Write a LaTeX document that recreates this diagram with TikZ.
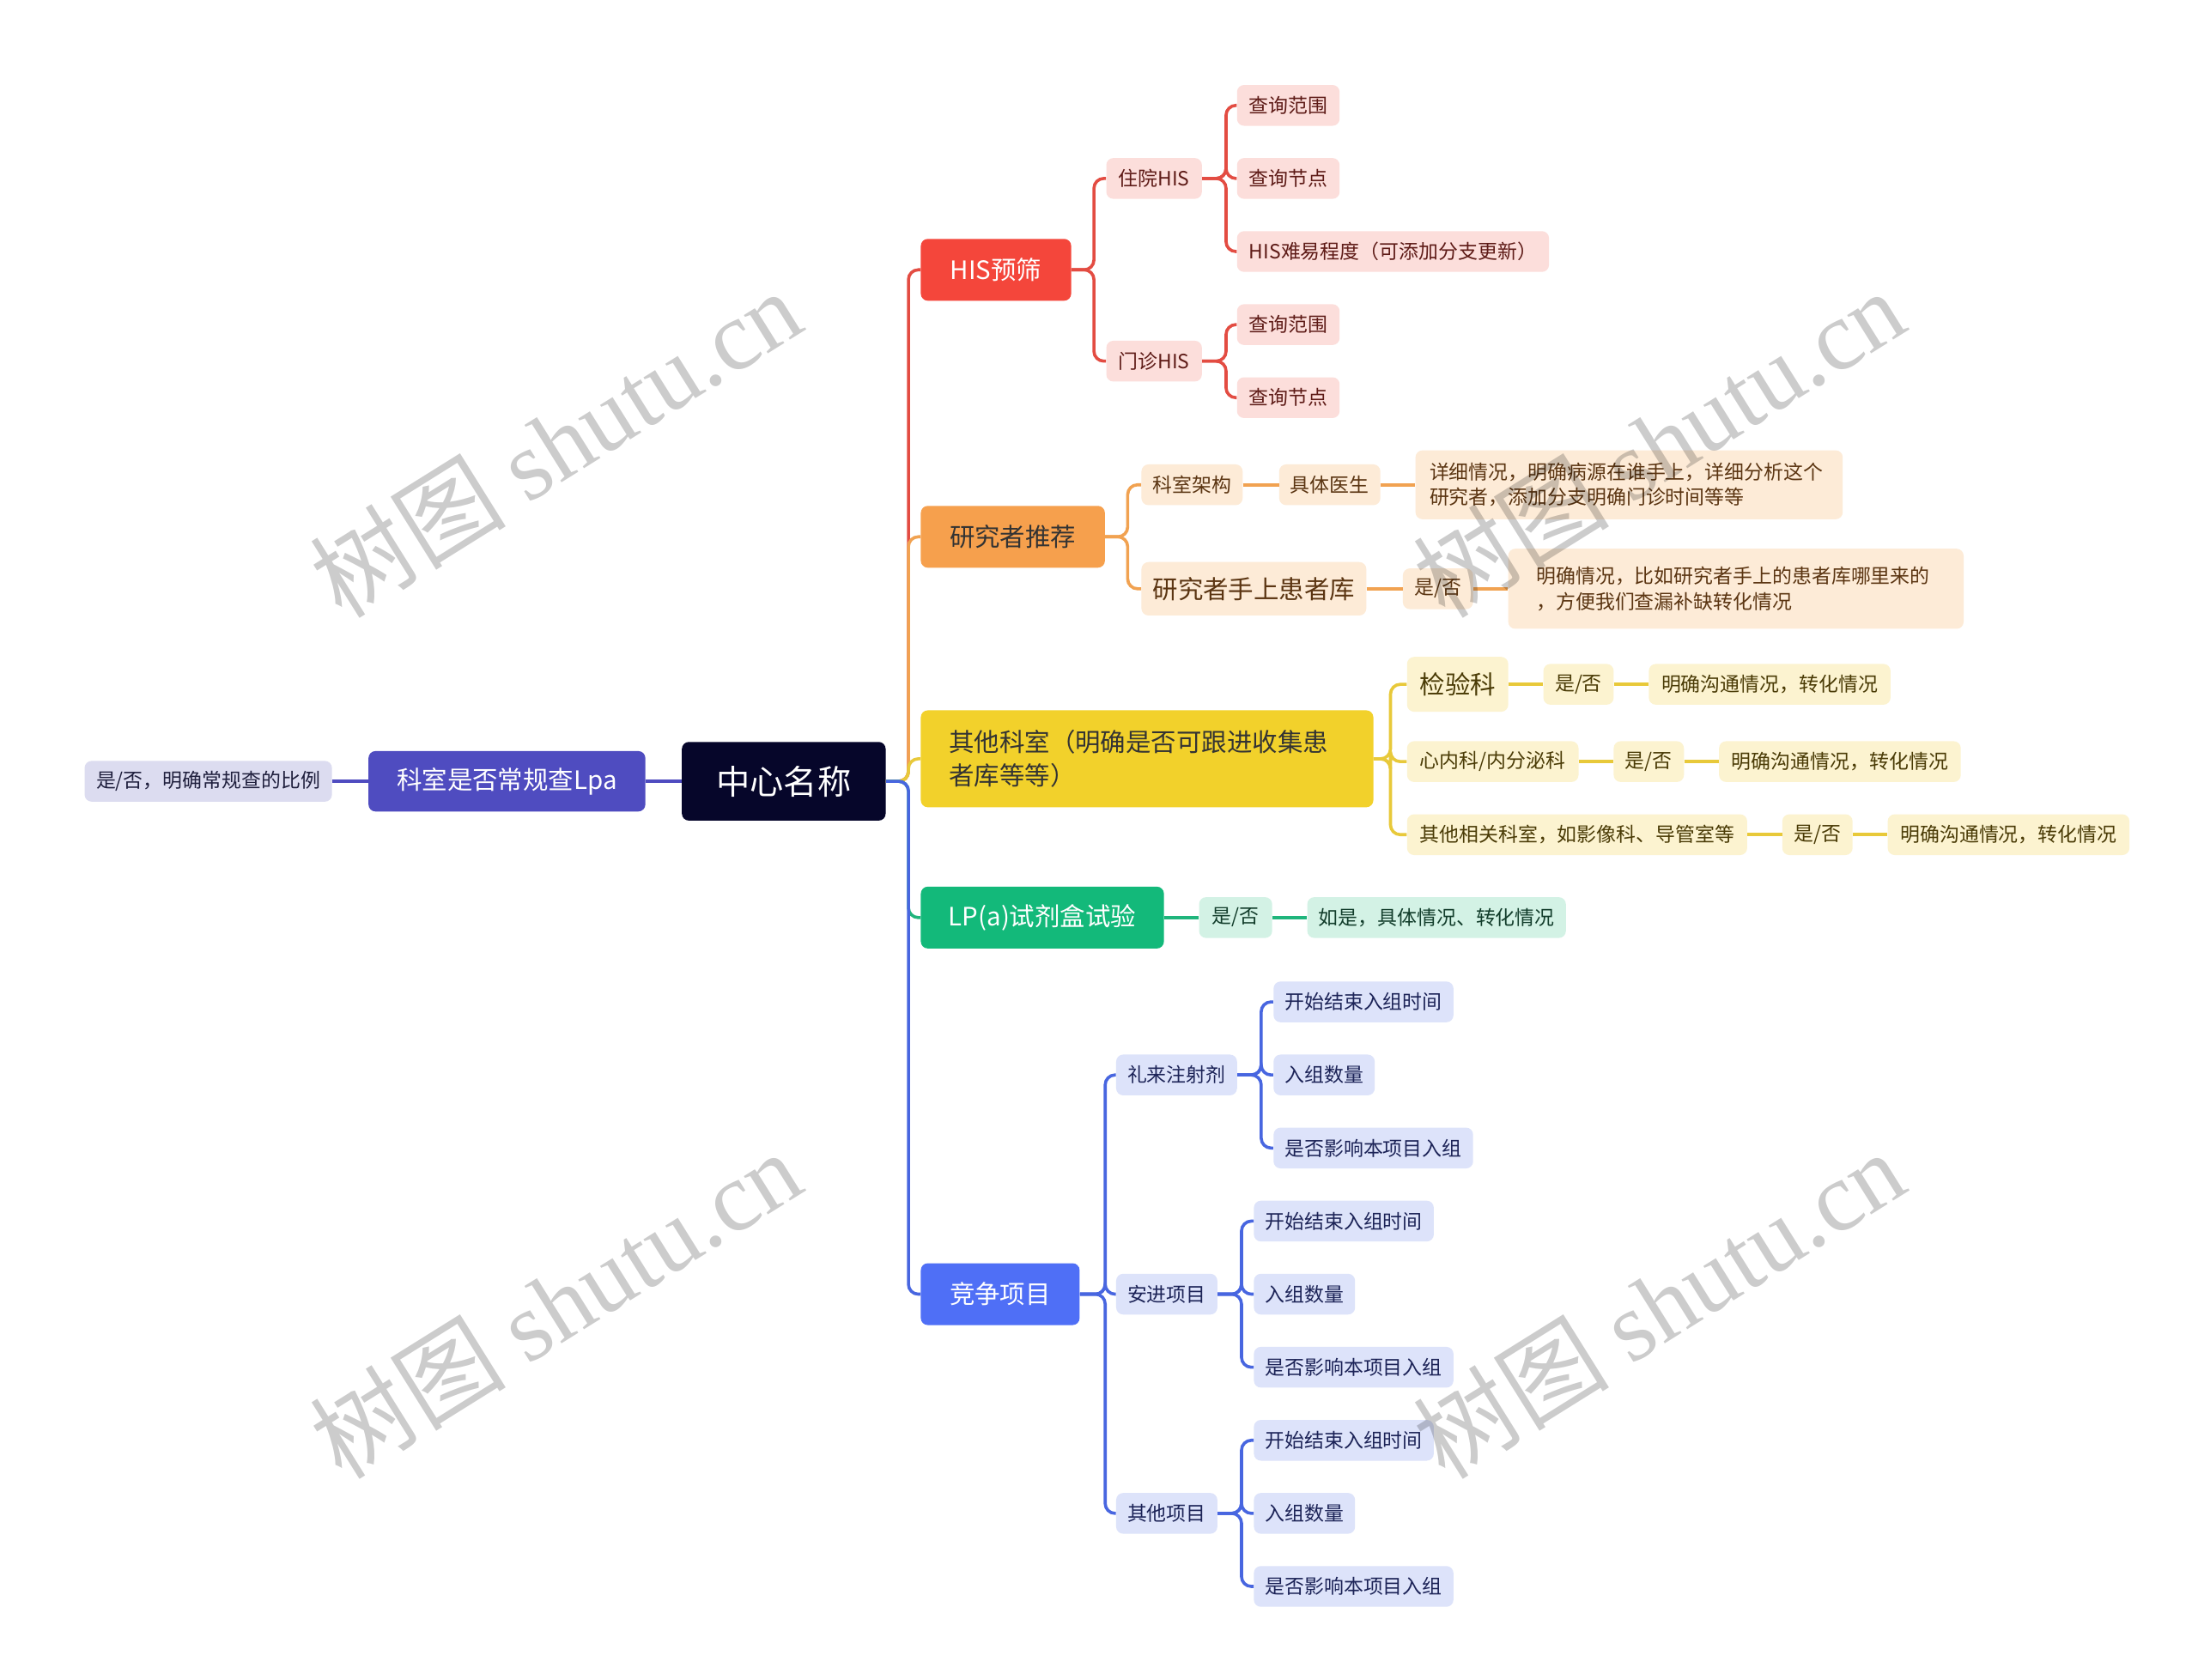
\documentclass[tikz,border=0pt]{standalone}
\usepackage{fontspec}
\setmainfont{Noto Sans CJK SC}
\newfontfamily\wmlat{Liberation Serif}
\definecolor{cnavy}{HTML}{06062A}
\definecolor{cred}{HTML}{F4463B}
\definecolor{lred}{HTML}{E34C42}
\definecolor{fred}{HTML}{FCDEDB}
\definecolor{tred}{HTML}{5E1B17}
\definecolor{corange}{HTML}{F6A04D}
\definecolor{lorange}{HTML}{F1A251}
\definecolor{forange}{HTML}{FDEBD7}
\definecolor{torange}{HTML}{5B3512}
\definecolor{cyellow}{HTML}{F2D12B}
\definecolor{lyellow}{HTML}{E8C93A}
\definecolor{fyellow}{HTML}{FCF3D0}
\definecolor{tyellow}{HTML}{4A3B06}
\definecolor{cgreen}{HTML}{13B97A}
\definecolor{lgreen}{HTML}{1FB57C}
\definecolor{fgreen}{HTML}{D3F2E5}
\definecolor{tgreen}{HTML}{123D2B}
\definecolor{cblue}{HTML}{4F6FF6}
\definecolor{lblue}{HTML}{4866E0}
\definecolor{fblue}{HTML}{DDE3FA}
\definecolor{tblue}{HTML}{1C2357}
\definecolor{cpurple}{HTML}{4F4CC0}
\definecolor{fpurple}{HTML}{DCDCF0}
\definecolor{tpurple}{HTML}{1F1F3D}
\begin{document}
\begin{tikzpicture}[x=1pt,y=-1pt,
  box/.style={rounded corners=5pt, inner sep=0pt, anchor=west, align=center},
  ctr/.style={box, fill=cnavy, text=white, font=\fontsize{24}{28}\selectfont, minimum height=56},
  mainbox/.style={box, font=\fontsize{18}{24}\selectfont, minimum height=44},
  subbox/.style={box, font=\fontsize{14}{18}\selectfont, minimum height=29},
  bigsub/.style={box, font=\fontsize{18}{22}\selectfont, minimum height=38},
  rs/.style={fill=fred, text=tred},
  os/.style={fill=forange, text=torange},
  ys/.style={fill=fyellow, text=tyellow},
  gs/.style={fill=fgreen, text=tgreen},
  bs/.style={fill=fblue, text=tblue},
  ps/.style={fill=fpurple, text=tpurple},
  ln/.style={line width=2.2pt, rounded corners=7pt},
  wm/.style={rotate=32, text=black, opacity=0.2, font=\fontsize{70}{80}\selectfont}
]
\fill[white] (0,0) rectangle (1564,1195);
\useasboundingbox (0,0) rectangle (1564,1195);

% center and left
\node[ctr, minimum width=145] (c) at (485,556) {中心名称};
\node[box, fill=cpurple, text=white, font=\fontsize{18}{22}\selectfont, minimum width=197, minimum height=43] (lp) at (262,556) {科室是否常规查Lpa};
\node[subbox, ps, minimum width=176] (l0) at (60,556) {是/否，明确常规查的比例};

% main branches
\node[mainbox, fill=cred, text=white, minimum width=107] (his) at (655,192) {HIS预筛};
\node[mainbox, fill=corange, text=black!80, minimum width=131] (yjz) at (655,382) {研究者推荐};
\node[box, fill=cyellow, text=black!80, font=\fontsize{18}{24}\selectfont, align=left, text width=282, inner xsep=20pt, minimum height=69] (qt) at (655,540) {其他科室（明确是否可跟进收集患\\者库等等）};
\node[mainbox, fill=cgreen, text=white, minimum width=173] (lpa) at (655,653) {LP(a)试剂盒试验};
\node[mainbox, fill=cblue, text=white, minimum width=113] (jz) at (655,921) {竞争项目};

% HIS subtree
\node[subbox, rs, minimum width=68] (zy) at (787,127) {住院HIS};
\node[subbox, rs, minimum width=68] (mz) at (787,257) {门诊HIS};
\node[subbox, rs, minimum width=73] (h1) at (880,75) {查询范围};
\node[subbox, rs, minimum width=73] (h2) at (880,127) {查询节点};
\node[subbox, rs, minimum width=222] (h3) at (880,179) {HIS难易程度（可添加分支更新）};
\node[subbox, rs, minimum width=73] (h4) at (880,231) {查询范围};
\node[subbox, rs, minimum width=73] (h5) at (880,283) {查询节点};

% orange subtree
\node[subbox, os, minimum width=72] (o1) at (812,345) {科室架构};
\node[subbox, os, minimum width=72] (o2) at (910,345) {具体医生};
\node[subbox, os, align=left, text width=284, inner xsep=10pt, minimum height=49] (o3) at (1007,345) {详细情况，明确病源在谁手上，详细分析这个\\研究者，添加分支明确门诊时间等等};
\node[bigsub, os, minimum width=160] (o4) at (812,419) {研究者手上患者库};
\node[subbox, os, minimum width=50] (o5) at (998,419) {是/否};
\node[subbox, os, align=left, text width=284, inner xsep=20pt, minimum height=57] (o6) at (1073,419) {明确情况，比如研究者手上的患者库哪里来的\\，方便我们查漏补缺转化情况};

% yellow subtree
\node[bigsub, ys, minimum width=72, minimum height=39] (y1) at (1001,487) {检验科};
\node[subbox, ys, minimum width=50] (y2) at (1098,487) {是/否};
\node[subbox, ys, minimum width=172] (y3) at (1173,487) {明确沟通情况，转化情况};
\node[subbox, ys, minimum width=122] (y4) at (1001,542) {心内科/内分泌科};
\node[subbox, ys, minimum width=50] (y5) at (1148,542) {是/否};
\node[subbox, ys, minimum width=172] (y6) at (1223,542) {明确沟通情况，转化情况};
\node[subbox, ys, minimum width=242] (y7) at (1001,594) {其他相关科室，如影像科、导管室等};
\node[subbox, ys, minimum width=50] (y8) at (1268,594) {是/否};
\node[subbox, ys, minimum width=172] (y9) at (1343,594) {明确沟通情况，转化情况};

% green subtree
\node[subbox, gs, minimum width=52] (g1) at (853,653) {是/否};
\node[subbox, gs, minimum width=184] (g2) at (930,653) {如是，具体情况、转化情况};

% blue subtree
\node[subbox, bs, minimum width=86] (b1) at (794,765) {礼来注射剂};
\node[subbox, bs, minimum width=72] (b2) at (794,921) {安进项目};
\node[subbox, bs, minimum width=72] (b3) at (794,1077) {其他项目};
\node[subbox, bs, minimum width=128] (b11) at (906,713) {开始结束入组时间};
\node[subbox, bs, minimum width=72] (b12) at (906,765) {入组数量};
\node[subbox, bs, minimum width=142] (b13) at (906,817) {是否影响本项目入组};
\node[subbox, bs, minimum width=128] (b21) at (892,869) {开始结束入组时间};
\node[subbox, bs, minimum width=72] (b22) at (892,921) {入组数量};
\node[subbox, bs, minimum width=142] (b23) at (892,973) {是否影响本项目入组};
\node[subbox, bs, minimum width=128] (b31) at (892,1025) {开始结束入组时间};
\node[subbox, bs, minimum width=72] (b32) at (892,1077) {入组数量};
\node[subbox, bs, minimum width=142] (b33) at (892,1129) {是否影响本项目入组};

% left connectors
\draw[ln, cpurple] (lp.east) -- (c.west);
\draw[ln, cpurple] (l0.east) -- (lp.west);

% main trunk
\draw[ln, lred] (c.east) -- ++(16,0) |- (his.west);
\draw[ln, lorange] (c.east) -- ++(16,0) |- (yjz.west);
\draw[ln, lyellow] (c.east) -- ++(16,0) |- (qt.west);
\draw[ln, lgreen] (c.east) -- ++(16,0) |- (lpa.west);
\draw[ln, lblue] (c.east) -- ++(16,0) |- (jz.west);

% HIS connectors
\draw[ln, lred] (his.east) -- ++(16,0) |- (zy.west);
\draw[ln, lred] (his.east) -- ++(16,0) |- (mz.west);
\foreach \t in {h1,h2,h3} \draw[ln, lred] (zy.east) -- ++(17,0) |- (\t.west);
\foreach \t in {h4,h5} \draw[ln, lred] (mz.east) -- ++(17,0) |- (\t.west);

% orange connectors
\draw[ln, lorange] (yjz.east) -- ++(16,0) |- (o1.west);
\draw[ln, lorange] (yjz.east) -- ++(16,0) |- (o4.west);
\draw[ln, lorange] (o1.east) -- (o2.west);
\draw[ln, lorange] (o2.east) -- (o3.west);
\draw[ln, lorange] (o4.east) -- (o5.west);
\draw[ln, lorange] (o5.east) -- (o6.west);

% yellow connectors
\foreach \t in {y1,y4,y7} \draw[ln, lyellow] (qt.east) -- ++(12,0) |- (\t.west);
\draw[ln, lyellow] (y1.east) -- (y2.west);
\draw[ln, lyellow] (y2.east) -- (y3.west);
\draw[ln, lyellow] (y4.east) -- (y5.west);
\draw[ln, lyellow] (y5.east) -- (y6.west);
\draw[ln, lyellow] (y7.east) -- (y8.west);
\draw[ln, lyellow] (y8.east) -- (y9.west);

% green connectors
\draw[ln, lgreen] (lpa.east) -- (g1.west);
\draw[ln, lgreen] (g1.east) -- (g2.west);

% blue connectors
\foreach \t in {b1,b2,b3} \draw[ln, lblue] (jz.east) -- ++(18,0) |- (\t.west);
\foreach \t in {b11,b12,b13} \draw[ln, lblue] (b1.east) -- ++(17,0) |- (\t.west);
\foreach \t in {b21,b22,b23} \draw[ln, lblue] (b2.east) -- ++(17,0) |- (\t.west);
\foreach \t in {b31,b32,b33} \draw[ln, lblue] (b3.east) -- ++(17,0) |- (\t.west);

% watermarks
\node[wm] (w1) at (395,315) {树图 {\wmlat shutu.cn}};
\node[wm] (w2) at (1180,315) {树图 {\wmlat shutu.cn}};
\node[wm] (w3) at (395,928) {树图 {\wmlat shutu.cn}};
\node[wm] (w4) at (1180,928) {树图 {\wmlat shutu.cn}};
\end{tikzpicture}
\end{document}
